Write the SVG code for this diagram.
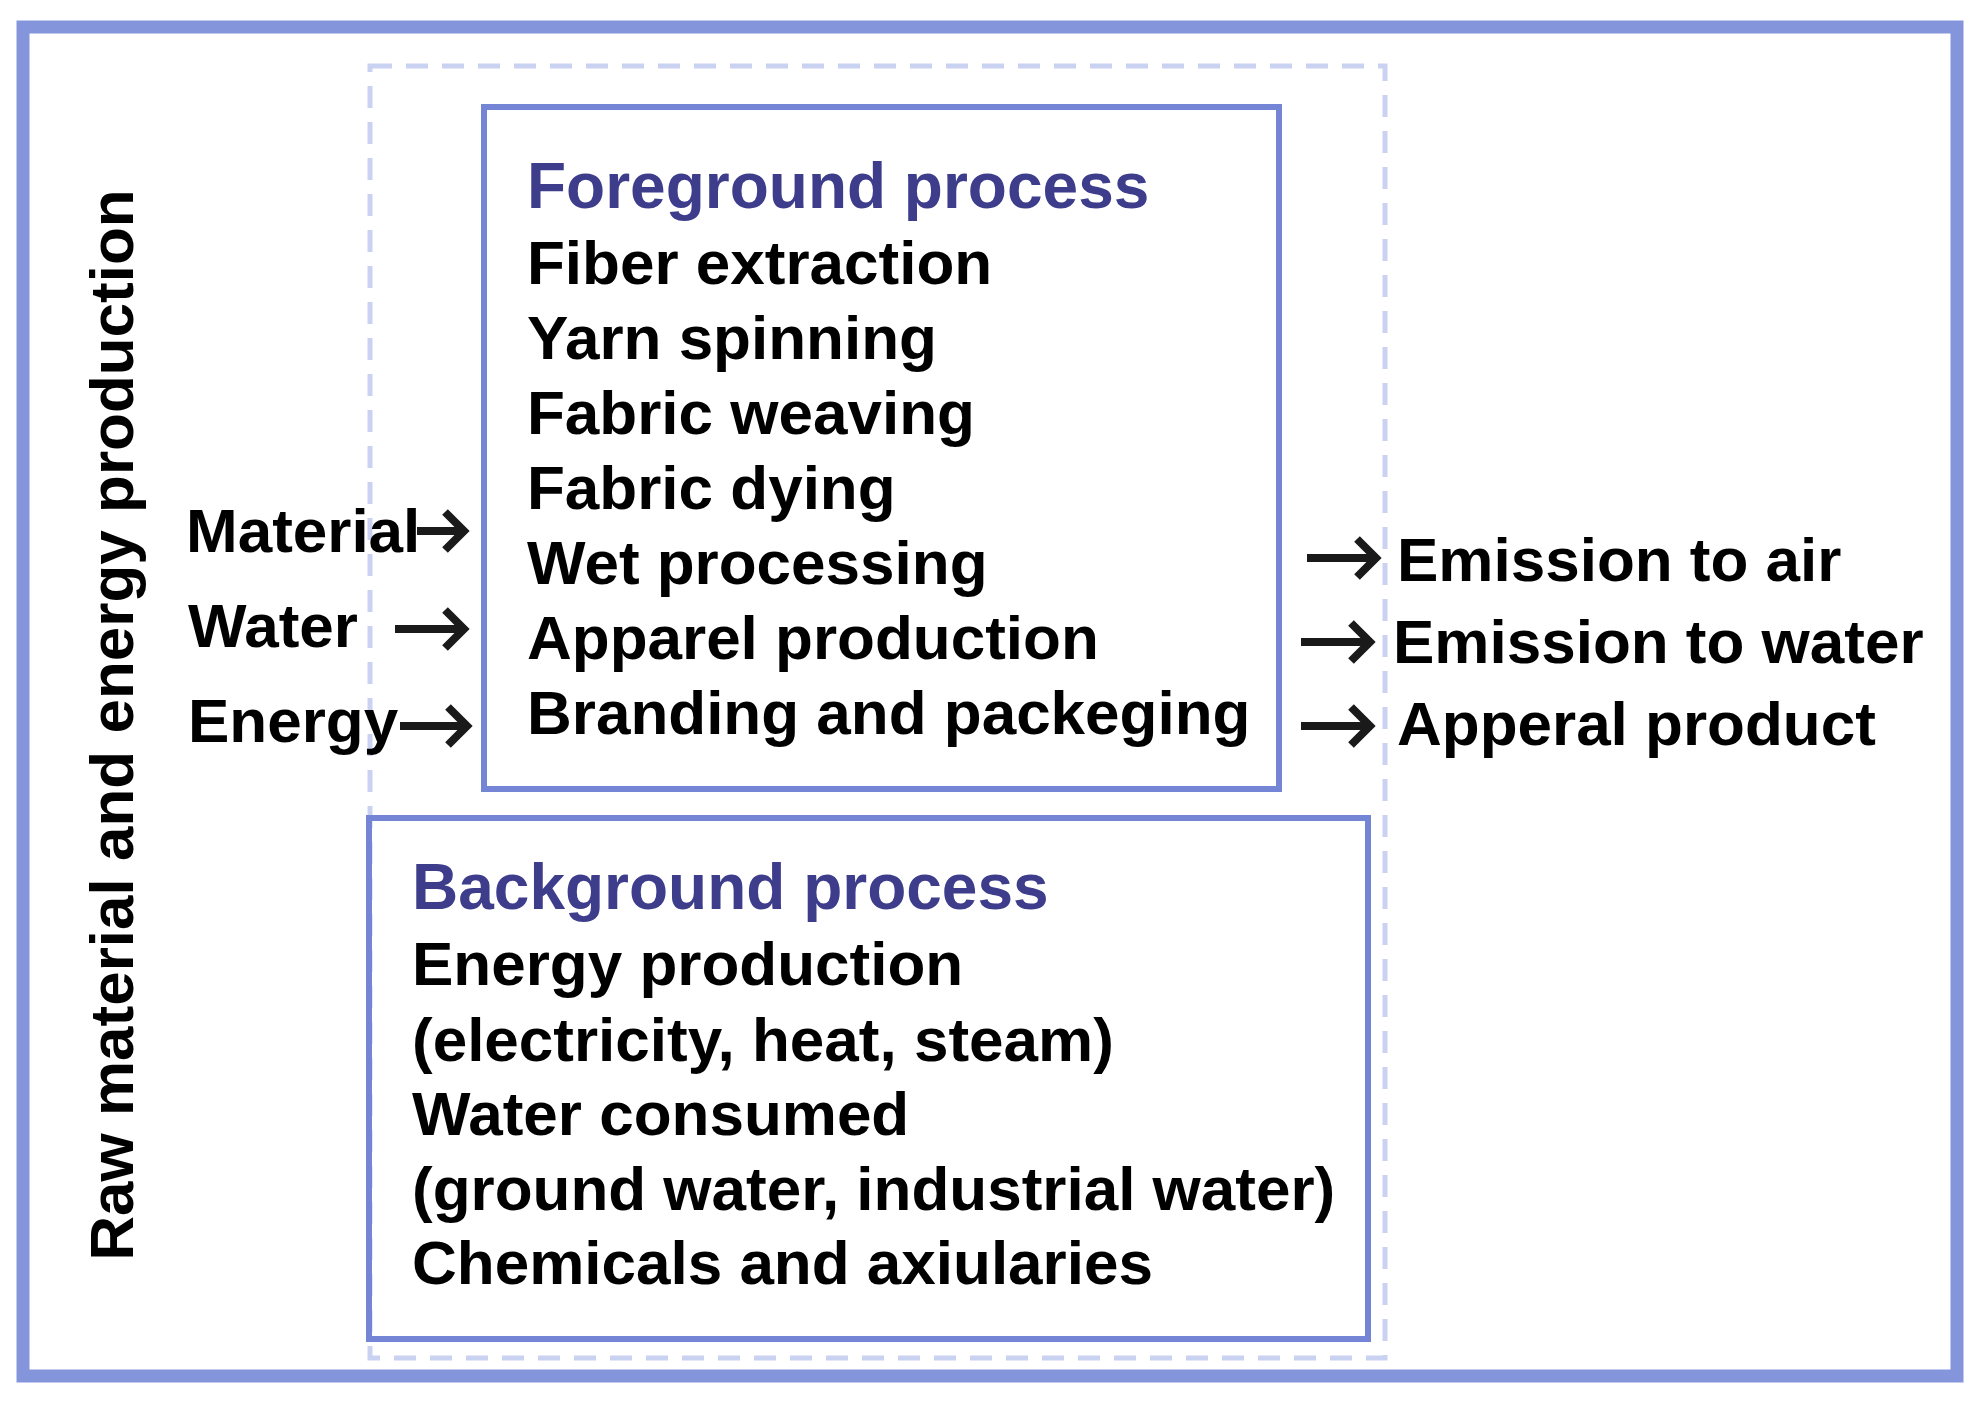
<svg xmlns="http://www.w3.org/2000/svg" width="1980" height="1405" viewBox="0 0 1980 1405">
<style>
text{font-family:"Liberation Sans",Arial,sans-serif;font-weight:bold;font-size:62px;fill:#000}
.t{fill:#3d3d8c;font-size:64px}
.box{fill:none;stroke:#7585d6;stroke-width:6}
.ar{fill:none;stroke:#1a1a1a;stroke-width:8}
</style>
<rect width="1980" height="1405" fill="#fff"/>
<rect x="23" y="27" width="1934" height="1349" fill="none" stroke="#8595dc" stroke-width="13"/>
<rect id="system" x="370" y="66" width="1015" height="1292" fill="none" stroke="#cad2f2" stroke-width="5" stroke-dasharray="22,14"/>
<text transform="translate(133,725) rotate(-90)" text-anchor="middle">Raw material and energy production</text>
<g id="foreground">
<rect class="box" x="484" y="107" width="795" height="682"/>
<text class="t" x="527" y="208">Foreground process</text>
<text x="527" y="284">Fiber extraction</text>
<text x="527" y="359">Yarn spinning</text>
<text x="527" y="434">Fabric weaving</text>
<text x="527" y="509">Fabric dying</text>
<text x="527" y="584">Wet processing</text>
<text x="527" y="659">Apparel production</text>
<text x="527" y="734">Branding and packeging</text>
</g>
<g id="background">
<rect class="box" x="369" y="818" width="999" height="521"/>
<text class="t" x="412" y="909">Background process</text>
<text x="412" y="985">Energy production</text>
<text x="412" y="1061">(electricity, heat, steam)</text>
<text x="412" y="1135">Water consumed</text>
<text x="412" y="1210">(ground water, industrial water)</text>
<text x="412" y="1284">Chemicals and axiularies</text>
</g>
<g id="inputs">
<text x="186" y="552">Material</text>
<text x="188" y="647">Water</text>
<text x="188" y="742">Energy</text>
</g>
<g id="outputs">
<text x="1397" y="581">Emission to air</text>
<text x="1393" y="663">Emission to water</text>
<text x="1397" y="745">Apperal product</text>
</g>
<g id="connectors">
<path class="ar" d="M417 531H462M445 512L464 531L445 550"/>
<path class="ar" d="M395 629H462M445 610L464 629L445 648"/>
<path class="ar" d="M400 726H465M448 707L467 726L448 745"/>
<path class="ar" d="M1307 558H1374M1357 539L1376 558L1357 577"/>
<path class="ar" d="M1301 642H1368M1351 623L1370 642L1351 661"/>
<path class="ar" d="M1301 726H1368M1351 707L1370 726L1351 745"/>
</g>
</svg>
